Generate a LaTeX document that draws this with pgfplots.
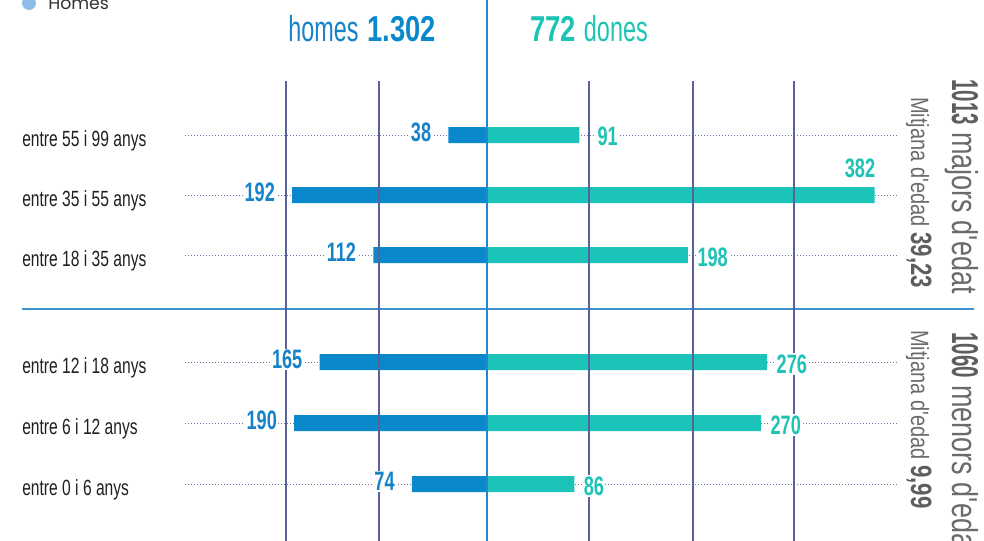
\documentclass[border=0pt]{standalone}
\usepackage{fontspec}
\usepackage{pgfplots}
\pgfplotsset{compat=1.18}
\setmainfont{Liberation Sans}
% condensed looks, faked from Liberation Sans
\newfontfamily\hdl[FakeStretch=0.65]{Liberation Sans}
\newfontfamily\hdb[FakeStretch=0.76]{Liberation Sans}
\newfontfamily\rowf[FakeStretch=0.71]{Liberation Sans}
\newfontfamily\valf[FakeStretch=0.68]{Liberation Sans}
\newfontfamily\rotl[FakeStretch=0.75]{Liberation Sans}
\newfontfamily\rotb[FakeStretch=0.55]{Liberation Sans}
\newfontfamily\mitl[FakeStretch=0.8]{Liberation Sans}
\newfontfamily\popf{Poppins}

\definecolor{hblue}{HTML}{0A88CC}
\definecolor{dteal}{HTML}{1BC3B8}
\definecolor{htext}{HTML}{1683C8}
\definecolor{dtext}{HTML}{1DC3B5}
\definecolor{gridc}{HTML}{5A619C}
\definecolor{dotc}{HTML}{6A70A4}
\definecolor{zeroc}{HTML}{1E88D0}
\definecolor{sepc}{HTML}{3C93D0}
\definecolor{graytx}{HTML}{6B6B6B}
\definecolor{graybd}{HTML}{5E5E5E}
\definecolor{legc}{HTML}{8DBCE6}
\definecolor{rowtx}{HTML}{231F20}

\tikzset{
  valnode/.style={font=\valf\bfseries\fontsize{20pt}{20pt}\selectfont, fill=white, inner sep=1pt},
}

\begin{document}
\begin{tikzpicture}
\begin{axis}[name=ax, at={(0,0)}, anchor=north west,
  x=0.76125pt, y=0.75pt, y dir=reverse,
  xmin=-479.8, xmax=489.66, ymin=0, ymax=541,
  axis line style={draw=none}, tick style={draw=none}, major tick length=0pt,
  xtick=\empty,
  ytick={135,195,255,362,423,484},
  yticklabels={entre 55 i 99 anys, entre 35 i 55 anys, entre 18 i 35 anys,
               entre 12 i 18 anys, entre 6 i 12 anys, entre 0 i 6 anys},
  yticklabel style={font=\rowf\fontsize{16.5pt}{16.5pt}\selectfont, text=rowtx,
    anchor=base west, inner sep=0pt, xshift=16.5pt, yshift=-8.25pt},
  clip=false]

  % dotted leaders behind the bars
  \pgfplotsinvokeforeach{135,195,255,362,423,484}{
    \draw[dotc, line width=0.75pt, dash pattern=on 0.75pt off 1.5pt]
      (axis cs:-297.5,#1) -- (axis cs:404.9,#1);
  }
  % separator between adults and minors
  \draw[sepc!55, line width=2.2pt] (axis cs:-458.1,309) -- (axis cs:479.8,309);
  \draw[sepc, line width=1.1pt] (axis cs:-458.1,309) -- (axis cs:479.8,309);

  % homes
  \addplot[xbar, bar shift=0pt, bar width=16, fill=hblue, draw=none,
    nodes near coords, point meta=explicit symbolic,
    every node near coord/.append style={valnode, text=htext, anchor=east,
      xshift=-11.75pt, yshift=2pt}]
  coordinates {(-38,135)[38] (-192,195)[192] (-112,255)[112]
               (-165,362)[165] (-190,423)[190] (-74,484)[74]};
  % dones
  \addplot[xbar, bar shift=0pt, bar width=16, fill=dteal, draw=none]
  coordinates {(91,135) (382,195) (198,255) (276,362) (270,423) (86,484)};
  % dones labels
  \addplot[draw=none, mark=none, nodes near coords, point meta=explicit symbolic,
    every node near coord/.append style={valnode, text=dtext, anchor=west,
      xshift=6pt, yshift=-1.5pt}]
  coordinates {(198,255)[198] (276,362)[276] (270,423)[270] (86,484)[86]};
  \addplot[draw=none, mark=none, nodes near coords, point meta=explicit symbolic,
    every node near coord/.append style={valnode, text=dtext, anchor=west,
      xshift=12.5pt, yshift=-1pt}]
  coordinates {(91,135)[91]};
  \addplot[draw=none, mark=none, nodes near coords, point meta=explicit symbolic,
    every node near coord/.append style={valnode, text=dtext, anchor=south east,
      xshift=1.5pt, yshift=11.75pt}]
  coordinates {(382,195)[382]};

  % vertical grid lines on top
  \pgfplotsinvokeforeach{-198.0,-106.4,100.5,203.0,302.5}{
    \draw[gridc, line width=0.85pt] (axis cs:#1,81) -- (axis cs:#1,541);
  }
  \draw[zeroc, line width=0.9pt] (axis cs:0,0) -- (axis cs:0,541);
\end{axis}

% texts in pixel units
\begin{scope}[x=0.75pt, y=-0.75pt]
  \fill[legc] (29,3) circle (7);
  \node[anchor=base west, inner sep=0pt, text=black!80, font=\popf\fontsize{13pt}{13pt}\selectfont]
    at (48,10) {Homes};

  \node[anchor=base west, inner sep=0pt, text=htext, font=\hdl\fontsize{27pt}{27pt}\selectfont]
    at (288,42) {homes};
  \node[anchor=base east, inner sep=0pt, text=hblue, font=\hdb\bfseries\fontsize{27pt}{27pt}\selectfont]
    at (436,42) {1.302};
  \node[anchor=base west, inner sep=0pt, text=dtext, font=\hdb\bfseries\fontsize{27pt}{27pt}\selectfont]
    at (530,42) {772};
  \node[anchor=base east, inner sep=0pt, text=dtext, font=\hdl\fontsize{27pt}{27pt}\selectfont]
    at (648,42) {dones};

  \node[rotate=-90, anchor=base west, inner sep=0pt, text=graytx]
    at (952,79) {{\rotb\bfseries\color{graybd}\fontsize{28pt}{28pt}\selectfont 1013}{\rotl\fontsize{27pt}{27pt}\selectfont\ majors d'edat}};
  \node[rotate=-90, anchor=base west, inner sep=0pt, text=graytx]
    at (911,97) {{\mitl\fontsize{18.75pt}{18.75pt}\selectfont Mitjana d'edad\ }{\hdb\bfseries\color{graybd}\fontsize{22pt}{22pt}\selectfont 39,23}};
  \node[rotate=-90, anchor=base west, inner sep=0pt, text=graytx]
    at (952,332) {{\rotb\bfseries\color{graybd}\fontsize{28pt}{28pt}\selectfont 1060}{\rotl\fontsize{27pt}{27pt}\selectfont\ menors d'edat}};
  \node[rotate=-90, anchor=base west, inner sep=0pt, text=graytx]
    at (911,330) {{\mitl\fontsize{18.75pt}{18.75pt}\selectfont Mitjana d'edad\ }{\hdb\bfseries\color{graybd}\fontsize{22pt}{22pt}\selectfont 9,99}};
\end{scope}

\pgfresetboundingbox
\path[use as bounding box] (ax.south west) rectangle (ax.north east);
\end{tikzpicture}
\end{document}
